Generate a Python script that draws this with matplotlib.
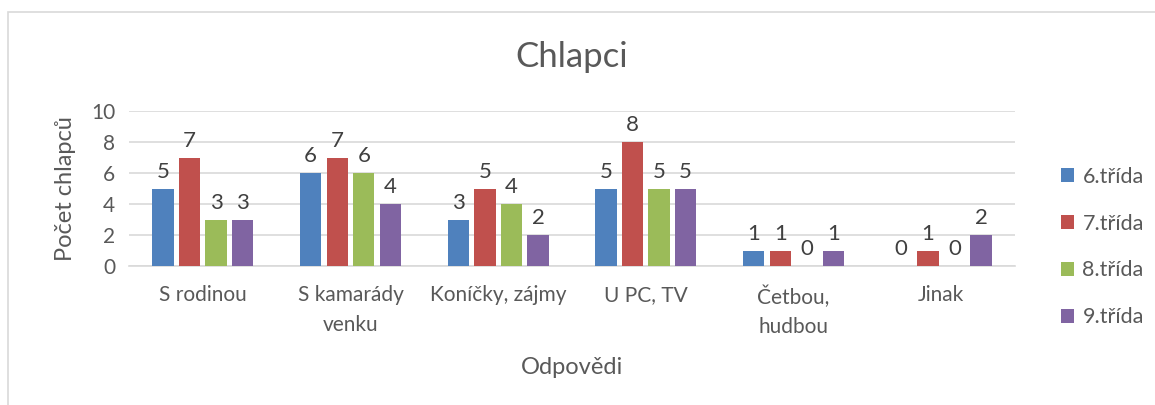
import matplotlib
matplotlib.use("Agg")
import matplotlib.pyplot as plt
import numpy as np
from matplotlib.patches import Rectangle

plt.rcParams['font.family'] = ['Lato', 'DejaVu Sans']

# Data
categories = ["S rodinou", "S kamarády\nvenku", "Koníčky, zájmy", "U PC, TV", "Četbou,\nhudbou", "Jinak"]
series_names = ["6.třída", "7.třída", "8.třída", "9.třída"]
trida6 = [5, 6, 3, 5, 1, 0]
trida7 = [7, 7, 5, 8, 1, 1]
trida8 = [3, 6, 4, 5, 0, 0]
trida9 = [3, 4, 2, 5, 1, 2]
colors = ["#4F81BD", "#C0504D", "#9BBB59", "#8064A2"]
TEXT = "#595959"

fig = plt.figure(figsize=(11.55, 4.05), dpi=100)
# chart border (cropped on right/bottom)
fig.patches.append(Rectangle((8 / 1155, -0.1), 1.2, 1.1 - 12 / 405,
                             transform=fig.transFigure, fill=False,
                             edgecolor="#D9D9D9", linewidth=1.2))

ax = fig.add_axes([129 / 1155, 1 - 266 / 405, 886 / 1155, 155 / 405])

x = np.arange(len(categories))
step = 0.18
width = 0.145
all_series = [trida6, trida7, trida8, trida9]
for i, (vals, name, col) in enumerate(zip(all_series, series_names, colors)):
    pos = x + (i - 1.5) * step
    ax.bar(pos, vals, width, color=col, label=name, zorder=3)
    for p, v in zip(pos, vals):
        ax.text(p, v + 0.45, str(v), ha="center", va="bottom",
                fontsize=16, color="#404040")

ax.set_xlim(-0.5, len(categories) - 0.5)
ax.set_ylim(0, 10)
ax.set_yticks([0, 2, 4, 6, 8, 10])
ax.grid(axis="y", color="#D9D9D9", linewidth=1.2, zorder=0)
ax.set_axisbelow(True)
for s in ["top", "right", "left"]:
    ax.spines[s].set_visible(False)
ax.spines["bottom"].set_color("#D9D9D9")
ax.spines["bottom"].set_linewidth(1.2)
ax.tick_params(axis="both", length=0, colors=TEXT)
ax.tick_params(axis="y", pad=10, labelsize=15)
ax.tick_params(axis="x", pad=14, labelsize=15)
ax.set_xticks(x)
ax.set_xticklabels(categories, linespacing=1.6, va="top")

ax.set_ylabel("Počet chlapců", fontsize=17, color=TEXT)
ax.yaxis.set_label_coords(-0.072, 0.5)
ax.set_xlabel("Odpovědi", fontsize=17, color=TEXT)
ax.xaxis.set_label_coords(0.5, -(368 - 266) / 155)
ax.xaxis.label.set_va("center")
ax.yaxis.label.set_va("center")

fig.text(572 / 1155, 1 - 57 / 405, "Chlapci", ha="center", va="center",
         fontsize=25, color=TEXT)

leg = ax.legend(loc="center left", bbox_to_anchor=(1.03, (266 - 247) / 155),
                frameon=False, fontsize=15.5, handlelength=0.6,
                handleheight=0.6, handletextpad=0.4, labelspacing=1.25)
for t in leg.get_texts():
    t.set_color(TEXT)

fig.savefig("out.png", dpi=100)
